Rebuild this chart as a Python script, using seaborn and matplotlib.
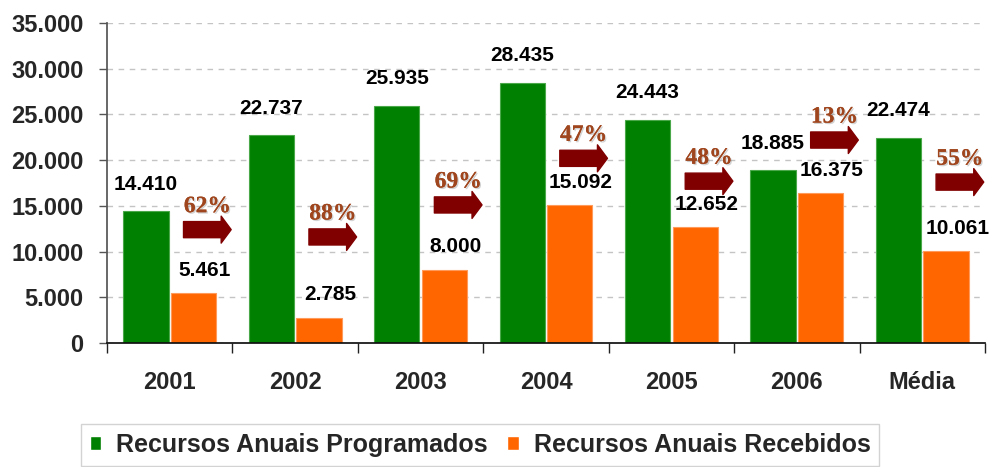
import numpy as np
import pandas as pd
import seaborn as sns
import matplotlib.pyplot as plt
from matplotlib.patches import Patch
import matplotlib.patheffects as pe

# %% data
anos = ["2001", "2002", "2003", "2004", "2005", "2006", "Média"]
programados = [14410, 22737, 25935, 28435, 24443, 18885, 22474]
recebidos = [5461, 2785, 8000, 15092, 12652, 16375, 10061]
percentuais = ["62%", "88%", "69%", "47%", "48%", "13%", "55%"]
serie_nomes = ["Recursos Anuais Programados", "Recursos Anuais Recebidos"]

# height (data units) where each arrow sits
nivel_seta = [12400, 11600, 15100, 20200, 17700, 22200, 17600]

verde = "#008000"
laranja = "#FF6600"

df = pd.DataFrame({
    "Ano": anos * 2,
    "Serie": [serie_nomes[0]] * len(anos) + [serie_nomes[1]] * len(anos),
    "Valor": programados + recebidos,
})

# %% style
sns.set_theme(style="white")
plt.rcParams["font.family"] = ["Liberation Sans", "DejaVu Sans"]
plt.rcParams["font.weight"] = "bold"

fig = plt.figure(figsize=(9.89, 4.67), dpi=100)
ax = fig.add_axes([107 / 989, 124 / 467, 878 / 989, 320 / 467])

sns.barplot(data=df, x="Ano", y="Valor", hue="Serie", palette=[verde, laranja],
            saturation=1, width=0.76, gap=0.05, legend=False, ax=ax, zorder=3)

# lighter outline like the original
for cont, ec in zip(ax.containers, ["#4aa84a", "#ff9a5a"]):
    for b in cont:
        b.set_edgecolor(ec)
        b.set_linewidth(0.8)

ax.set_xlim(-0.5, len(anos) - 0.5)
ax.set_ylim(0, 35000)
ax.set_yticks(np.arange(0, 35001, 5000))
ax.set_yticklabels([f"{int(v):,}".replace(",", ".") for v in np.arange(0, 35001, 5000)],
                   fontsize=17, fontweight="bold")
ax.set_xticks(range(len(anos)))
ax.set_xticklabels(anos, fontsize=17, fontweight="bold")
ax.set_xticks(np.arange(-0.5, len(anos)), minor=True)
ax.tick_params(axis="x", which="major", length=0, pad=20)
ax.tick_params(axis="x", which="minor", bottom=True, length=7, width=1, color="#222222", direction="out")
ax.tick_params(axis="y", length=6, width=1, color="#555555", direction="out", pad=11, left=True)
ax.set_xlabel("")
ax.set_ylabel("")

ax.yaxis.grid(True, color="#c4c4c4", linestyle=(0, (4, 4)), linewidth=1)
ax.set_axisbelow(True)
for s in ["top", "right"]:
    ax.spines[s].set_visible(False)
ax.spines["left"].set_color("#555555")
ax.spines["bottom"].set_color("#111111")
ax.spines["bottom"].set_zorder(5)

# %% value labels
for b, v in zip(ax.containers[0], programados):
    ax.annotate(f"{v:,}".replace(",", "."), (b.get_x() + b.get_width() / 2, v),
                xytext=(0, 19.5), textcoords="offset points", ha="center", va="center",
                fontsize=15, fontweight="bold", color="black", zorder=6)
for b, v in zip(ax.containers[1], recebidos):
    ax.annotate(f"{v:,}".replace(",", "."), (b.get_x() + b.get_width() / 2, v),
                xytext=(8, 16.5), textcoords="offset points", ha="center", va="center",
                fontsize=15, fontweight="bold", color="black", zorder=6)

# %% arrows with percentages
sombra = [pe.withSimplePatchShadow(offset=(1, -1), shadow_rgbFace="gray", alpha=0.35), pe.Normal()]
for i, (p, lvl) in enumerate(zip(percentuais, nivel_seta)):
    ax.annotate("", xy=(i + 0.49, lvl), xytext=(i + 0.11, lvl),
                arrowprops=dict(arrowstyle="simple,head_length=0.36,head_width=0.97,tail_width=0.58",
                                mutation_scale=20, fc="#800000", ec="#800000",
                                shrinkA=0, shrinkB=0), zorder=6)
    ax.annotate(p, (i + 0.3, lvl), xytext=(0, 16.5), textcoords="offset points",
                ha="center", va="center", fontsize=17, fontweight="bold",
                family=["Liberation Serif", "DejaVu Serif"], color="#A0461E",
                path_effects=sombra, zorder=6)

# %% legend
handles = [Patch(facecolor=verde), Patch(facecolor=laranja)]
fig.legend(handles, serie_nomes, loc="upper center", bbox_to_anchor=(480 / 989, 1 - 424 / 467),
           ncol=2, frameon=True, fancybox=False, edgecolor="#c8c8c8",
           handlelength=0.45, handleheight=0.45, handletextpad=0.6, columnspacing=0.8,
           borderpad=0.35, borderaxespad=0, prop={"size": 18, "weight": "bold"})

fig.savefig("out.png", dpi=100)
